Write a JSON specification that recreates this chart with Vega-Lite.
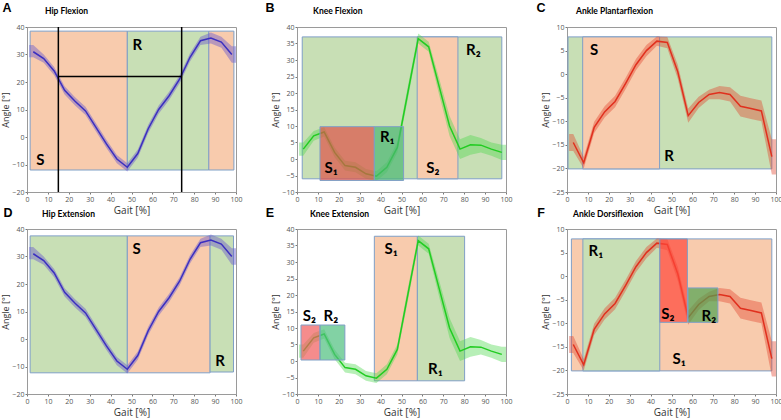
{
  "$schema": "https://vega.github.io/schema/vega-lite/v6.json",
  "padding": {"left": 1, "top": 1, "right": 1, "bottom": 1},
  "columns": 3,
  "spacing": {"row": 37, "column": 61},
  "bounds": "flush",
  "config": {
    "view": {"stroke": "#9a9a9a", "strokeWidth": 1},
    "axis": {"labelFont": "Open Sans", "labelFontSize": 7, "labelColor": "#555", "labelOverlap": false, "labelFlush": false, "tickColor": "#777", "tickSize": 2, "labelPadding": 1, "domainColor": "#9a9a9a", "grid": false, "titleFont": "Open Sans", "titleFontWeight": "normal", "titleColor": "#333"},
    "axisX": {"titlePadding": 3, "titleFontSize": 10, "tickCount": 10},
    "axisY": {"titlePadding": 1, "titleFontSize": 9, "tickCount": 8},
    "text": {"font": "Lato", "fontSize": 15, "fontWeight": "bold", "color": "#000"}
  },
  "datasets": {
    "hip": [
      {"x": 1, "lo": 29, "hi": 33.5},
      {"x": 3, "y": 31, "lo": 29, "hi": 33.5},
      {"x": 8, "y": 28.5, "lo": 27, "hi": 30},
      {"x": 13, "y": 24, "lo": 22.5, "hi": 25.5},
      {"x": 18, "y": 17, "lo": 15.5, "hi": 18.5},
      {"x": 23, "y": 13, "lo": 11.5, "hi": 14.5},
      {"x": 28, "y": 9.5, "lo": 8, "hi": 11},
      {"x": 33, "y": 3.5, "lo": 2, "hi": 5},
      {"x": 38, "y": -2.5, "lo": -4, "hi": -1},
      {"x": 43, "y": -8, "lo": -9.5, "hi": -6.5},
      {"x": 48, "y": -11, "lo": -12.5, "hi": -9.5},
      {"x": 53, "y": -6, "lo": -7.5, "hi": -4.5},
      {"x": 58, "y": 3, "lo": 1.5, "hi": 4.5},
      {"x": 63, "y": 10, "lo": 8.5, "hi": 11.5},
      {"x": 68, "y": 15, "lo": 13.5, "hi": 16.5},
      {"x": 73, "y": 21, "lo": 19.5, "hi": 22.5},
      {"x": 78, "y": 29, "lo": 27.5, "hi": 30.5},
      {"x": 83, "y": 35, "lo": 33.5, "hi": 36.5},
      {"x": 88, "y": 36, "lo": 34, "hi": 38},
      {"x": 93, "y": 34.5, "lo": 32.5, "hi": 36.5},
      {"x": 98, "y": 30, "lo": 27, "hi": 33},
      {"x": 100, "lo": 27, "hi": 33}
    ],
    "knee": [
      {"x": 1, "lo": 1, "hi": 5},
      {"x": 3, "y": 3, "lo": 1, "hi": 5},
      {"x": 8, "y": 7, "lo": 5.5, "hi": 8.5},
      {"x": 13, "y": 8.2, "lo": 6.8, "hi": 9.6},
      {"x": 18, "y": 2, "lo": 0.5, "hi": 3.5},
      {"x": 23, "y": -2, "lo": -3.5, "hi": -0.5},
      {"x": 28, "y": -2.5, "lo": -4, "hi": -1},
      {"x": 33, "y": -4.5, "lo": -6, "hi": -3},
      {"x": 38, "y": -5.2, "lo": -6.7, "hi": -3.7},
      {"x": 43, "y": -2.5, "lo": -4, "hi": -1},
      {"x": 48, "y": 3.5, "lo": 2, "hi": 5},
      {"x": 53, "y": 20, "lo": 18, "hi": 22},
      {"x": 58, "y": 36.5, "lo": 35, "hi": 38},
      {"x": 63, "y": 34, "lo": 32.5, "hi": 35.5},
      {"x": 68, "y": 22, "lo": 19.5, "hi": 24.5},
      {"x": 73, "y": 10, "lo": 7, "hi": 13},
      {"x": 78, "y": 3, "lo": 0, "hi": 6},
      {"x": 83, "y": 4.3, "lo": 1.3, "hi": 7.3},
      {"x": 88, "y": 4.2, "lo": 2, "hi": 6.4},
      {"x": 93, "y": 3, "lo": 1, "hi": 5},
      {"x": 98, "y": 2, "lo": -0.3, "hi": 4.3},
      {"x": 100, "lo": -0.3, "hi": 4.3}
    ],
    "ankle": [
      {"x": 1, "lo": -16.3, "hi": -12.7},
      {"x": 3, "y": -14.5, "lo": -16.3, "hi": -12.7},
      {"x": 8, "y": -18.8, "lo": -20, "hi": -17.6},
      {"x": 13, "y": -11.3, "lo": -12.5, "hi": -10.1},
      {"x": 18, "y": -8, "lo": -9.2, "hi": -6.8},
      {"x": 23, "y": -5.8, "lo": -7, "hi": -4.6},
      {"x": 28, "y": -2, "lo": -3.2, "hi": -0.8},
      {"x": 33, "y": 2, "lo": 0.8, "hi": 3.2},
      {"x": 38, "y": 5, "lo": 3.8, "hi": 6.2},
      {"x": 43, "y": 7, "lo": 6, "hi": 8},
      {"x": 48, "y": 6.7, "lo": 5.5, "hi": 7.9},
      {"x": 53, "y": 0.5, "lo": -1, "hi": 2},
      {"x": 58, "y": -8.8, "lo": -10.3, "hi": -7.3},
      {"x": 63, "y": -6, "lo": -7.2, "hi": -4.8},
      {"x": 68, "y": -4.3, "lo": -5.3, "hi": -3.3},
      {"x": 73, "y": -3.9, "lo": -5.3, "hi": -2.5},
      {"x": 78, "y": -4.3, "lo": -5.8, "hi": -2.8},
      {"x": 83, "y": -6.8, "lo": -9, "hi": -4.6},
      {"x": 88, "y": -7.3, "lo": -9.5, "hi": -5.1},
      {"x": 93, "y": -7.8, "lo": -10, "hi": -5.6},
      {"x": 98, "y": -17.5, "lo": -21.3, "hi": -13.8},
      {"x": 100, "lo": -21.3, "hi": -13.8}
    ],
    "rects": [
      {"panel": "A", "layer": "base", "kind": "S", "x": 1.5, "xe": 48, "y": -12, "ye": 38.5},
      {"panel": "A", "layer": "base", "kind": "R", "x": 48, "xe": 87, "y": -12, "ye": 38.5},
      {"panel": "A", "layer": "base", "kind": "S", "x": 87, "xe": 99, "y": -12, "ye": 38.5},
      {"panel": "B", "layer": "base", "kind": "R", "x": 2.5, "xe": 98, "y": -6, "ye": 37},
      {"panel": "B", "layer": "base", "kind": "S", "x": 57.5, "xe": 77, "y": -6, "ye": 37},
      {"panel": "B", "layer": "over", "kind": "Sd", "x": 11, "xe": 37, "y": -6.5, "ye": 9.8},
      {"panel": "B", "layer": "over", "kind": "Rd", "x": 37, "xe": 51, "y": -6.5, "ye": 9.8},
      {"panel": "C", "layer": "base", "kind": "R", "x": 0.5, "xe": 98, "y": -20.1, "ye": 7.9},
      {"panel": "C", "layer": "base", "kind": "S", "x": 7.5, "xe": 44.3, "y": -20.1, "ye": 7.9},
      {"panel": "D", "layer": "base", "kind": "R", "x": 1.5, "xe": 48, "y": -12.3, "ye": 37.5},
      {"panel": "D", "layer": "base", "kind": "S", "x": 48, "xe": 87.6, "y": -12.3, "ye": 37.5},
      {"panel": "D", "layer": "base", "kind": "R", "x": 87.6, "xe": 98.8, "y": -12, "ye": 37.5},
      {"panel": "E", "layer": "base", "kind": "S", "x": 37, "xe": 57.6, "y": -6, "ye": 37.8},
      {"panel": "E", "layer": "base", "kind": "R", "x": 57.6, "xe": 80.2, "y": -6, "ye": 37.8},
      {"panel": "E", "layer": "over", "kind": "Sr", "x": 1.9, "xe": 11, "y": 0.3, "ye": 10.9},
      {"panel": "E", "layer": "over", "kind": "Rt", "x": 11, "xe": 22.9, "y": 0.3, "ye": 10.9},
      {"panel": "F", "layer": "base", "kind": "S", "x": 2.1, "xe": 98, "y": -20.1, "ye": 7.9},
      {"panel": "F", "layer": "base", "kind": "R", "x": 7.6, "xe": 44.4, "y": -20.1, "ye": 7.9},
      {"panel": "F", "layer": "over", "kind": "Sb", "x": 44.4, "xe": 57.6, "y": -9.8, "ye": 7.9},
      {"panel": "F", "layer": "over", "kind": "Rg", "x": 57.9, "xe": 72.2, "y": -9.8, "ye": -2.5}
    ],
    "rules": [
      {"panel": "A", "x": 15, "xe": 15, "y": -20, "ye": 40},
      {"panel": "A", "x": 74, "xe": 74, "y": -20, "ye": 40},
      {"panel": "A", "x": 15, "xe": 74, "y": 22, "ye": 22}
    ],
    "labels": [
      {"panel": "A", "x": 6.4, "y": -8.4, "text": "S"},
      {"panel": "A", "x": 52.8, "y": 33.5, "text": "R"},
      {"panel": "B", "x": 16.3, "y": -2.7, "text": "S₁"},
      {"panel": "B", "x": 43.2, "y": 6.6, "text": "R₁"},
      {"panel": "B", "x": 65, "y": -2.7, "text": "S₂"},
      {"panel": "B", "x": 84.4, "y": 33.1, "text": "R₂"},
      {"panel": "C", "x": 13, "y": 5.2, "text": "S"},
      {"panel": "C", "x": 48.8, "y": -17.4, "text": "R"},
      {"panel": "D", "x": 52.5, "y": 32.7, "text": "S"},
      {"panel": "D", "x": 92.4, "y": -7.9, "text": "R"},
      {"panel": "E", "x": 5.9, "y": 13.7, "text": "S₂"},
      {"panel": "E", "x": 16.2, "y": 13.7, "text": "R₂"},
      {"panel": "E", "x": 45, "y": 34, "text": "S₁"},
      {"panel": "E", "x": 66.2, "y": -2.4, "text": "R₁"},
      {"panel": "F", "x": 13.8, "y": 5.3, "text": "R₁"},
      {"panel": "F", "x": 48.3, "y": -8, "text": "S₂"},
      {"panel": "F", "x": 67.9, "y": -8.4, "text": "R₂"},
      {"panel": "F", "x": 53.6, "y": -17.6, "text": "S₁"}
    ],
    "heads": [
      {"panel": "A", "role": "letter", "x": -9.6, "y": 46.9, "text": "A"},
      {"panel": "A", "role": "name", "x": 8.6, "y": 45.8, "text": "Hip Flexion"},
      {"panel": "B", "role": "letter", "x": -12.9, "y": 45.8, "text": "B"},
      {"panel": "B", "role": "name", "x": 7.7, "y": 44.8, "text": "Knee Flexion"},
      {"panel": "C", "role": "letter", "x": -12.4, "y": 14.0, "text": "C"},
      {"panel": "C", "role": "name", "x": 4.3, "y": 13.4, "text": "Ankle Plantarflexion"},
      {"panel": "D", "role": "letter", "x": -9.1, "y": 45.8, "text": "D"},
      {"panel": "D", "role": "name", "x": 7.2, "y": 45.5, "text": "Hip Extension"},
      {"panel": "E", "role": "letter", "x": -13, "y": 44.8, "text": "E"},
      {"panel": "E", "role": "name", "x": 6.2, "y": 44.5, "text": "Knee Extension"},
      {"panel": "F", "role": "letter", "x": -12.4, "y": 13.4, "text": "F"},
      {"panel": "F", "role": "name", "x": 2.9, "y": 13.2, "text": "Ankle Dorsiflexion"}
    ]
  },
  "concat": [
    {
      "width": 209, "height": 165,
      "encoding": {
        "x": {"field": "x", "type": "quantitative", "title": "Gait [%]", "scale": {"domain": [0, 100], "nice": false}},
        "y": {"field": "y", "type": "quantitative", "title": "Angle [°]", "scale": {"domain": [-20, 40], "nice": false}}
      },
      "layer": [
        {"data": {"name": "rects"}, "transform": [{"filter": "datum.panel === 'A' && datum.layer === 'base'"}],
         "mark": {"type": "rect", "stroke": "#7f9fc6", "strokeWidth": 1},
         "encoding": {"x2": {"field": "xe"}, "y2": {"field": "ye"},
           "color": {"field": "kind", "type": "nominal", "legend": null, "scale": {"domain": ["S", "R", "Sd", "Rd", "Sr", "Rt", "Sb", "Rg"], "range": ["#f8cbad", "#c8dfb5", "#dd5348", "#4ab773", "#f15b5b", "#4dbf7e", "#ff4639", "#50a350"]}}}},
        {"data": {"name": "hip"}, "mark": {"type": "area", "color": "#6a5acd", "opacity": 0.45},
         "encoding": {"y": {"field": "lo", "type": "quantitative", "title": "Angle [°]", "scale": {"domain": [-20, 40], "nice": false}}, "y2": {"field": "hi"}}},
        {"data": {"name": "hip"}, "mark": {"type": "line", "color": "#3b2fc0", "strokeWidth": 1.5}},
        {"data": {"name": "rules"}, "transform": [{"filter": "datum.panel === 'A'"}],
         "mark": {"type": "rule", "color": "#000", "strokeWidth": 1.5},
         "encoding": {"x2": {"field": "xe"}, "y2": {"field": "ye"}}},
        {"data": {"name": "labels"}, "transform": [{"filter": "datum.panel === 'A'"}],
         "mark": {"type": "text", "align": "center", "baseline": "middle"},
         "encoding": {"text": {"field": "text"}}},
        {"data": {"name": "heads"}, "transform": [{"filter": "datum.panel === 'A' && datum.role === 'letter'"}],
         "mark": {"type": "text", "align": "center", "baseline": "middle", "font": "Liberation Sans", "fontSize": 12.5},
         "encoding": {"text": {"field": "text"}}},
        {"data": {"name": "heads"}, "transform": [{"filter": "datum.panel === 'A' && datum.role === 'name'"}],
         "mark": {"type": "text", "align": "left", "baseline": "middle", "fontSize": 8.5},
         "encoding": {"text": {"field": "text"}}}
      ]
    },
    {
      "width": 209, "height": 165,
      "encoding": {
        "x": {"field": "x", "type": "quantitative", "title": "Gait [%]", "scale": {"domain": [0, 100], "nice": false}},
        "y": {"field": "y", "type": "quantitative", "title": "Angle [°]", "scale": {"domain": [-10, 40], "nice": false}}
      },
      "layer": [
        {"data": {"name": "rects"}, "transform": [{"filter": "datum.panel === 'B' && datum.layer === 'base'"}],
         "mark": {"type": "rect", "stroke": "#7f9fc6", "strokeWidth": 1},
         "encoding": {"x2": {"field": "xe"}, "y2": {"field": "ye"}, "color": {"field": "kind", "type": "nominal", "legend": null}}},
        {"data": {"name": "knee"}, "mark": {"type": "area", "color": "#4cd64c", "opacity": 0.4},
         "encoding": {"y": {"field": "lo", "type": "quantitative", "title": "Angle [°]", "scale": {"domain": [-10, 40], "nice": false}}, "y2": {"field": "hi"}}},
        {"data": {"name": "knee"}, "mark": {"type": "line", "color": "#22cc22", "strokeWidth": 1.5}},
        {"data": {"name": "rects"}, "transform": [{"filter": "datum.panel === 'B' && datum.layer === 'over'"}],
         "mark": {"type": "rect", "stroke": "#7f9fc6", "strokeWidth": 1, "fillOpacity": 0.7},
         "encoding": {"x2": {"field": "xe"}, "y2": {"field": "ye"}, "color": {"field": "kind", "type": "nominal", "legend": null}}},
        {"data": {"name": "labels"}, "transform": [{"filter": "datum.panel === 'B'"}],
         "mark": {"type": "text", "align": "center", "baseline": "middle"},
         "encoding": {"text": {"field": "text"}}},
        {"data": {"name": "heads"}, "transform": [{"filter": "datum.panel === 'B' && datum.role === 'letter'"}],
         "mark": {"type": "text", "align": "center", "baseline": "middle", "font": "Liberation Sans", "fontSize": 12.5},
         "encoding": {"text": {"field": "text"}}},
        {"data": {"name": "heads"}, "transform": [{"filter": "datum.panel === 'B' && datum.role === 'name'"}],
         "mark": {"type": "text", "align": "left", "baseline": "middle", "fontSize": 8.5},
         "encoding": {"text": {"field": "text"}}}
      ]
    },
    {
      "width": 209, "height": 165,
      "encoding": {
        "x": {"field": "x", "type": "quantitative", "title": "Gait [%]", "scale": {"domain": [0, 100], "nice": false}},
        "y": {"field": "y", "type": "quantitative", "title": "Angle [°]", "scale": {"domain": [-25, 10], "nice": false}}
      },
      "layer": [
        {"data": {"name": "rects"}, "transform": [{"filter": "datum.panel === 'C' && datum.layer === 'base'"}],
         "mark": {"type": "rect", "stroke": "#7f9fc6", "strokeWidth": 1},
         "encoding": {"x2": {"field": "xe"}, "y2": {"field": "ye"}, "color": {"field": "kind", "type": "nominal", "legend": null}}},
        {"data": {"name": "ankle"}, "mark": {"type": "area", "color": "#e0402a", "opacity": 0.4},
         "encoding": {"y": {"field": "lo", "type": "quantitative", "title": "Angle [°]", "scale": {"domain": [-25, 10], "nice": false}}, "y2": {"field": "hi"}}},
        {"data": {"name": "ankle"}, "mark": {"type": "line", "color": "#e0301e", "strokeWidth": 1.5}},
        {"data": {"name": "labels"}, "transform": [{"filter": "datum.panel === 'C'"}],
         "mark": {"type": "text", "align": "center", "baseline": "middle"},
         "encoding": {"text": {"field": "text"}}},
        {"data": {"name": "heads"}, "transform": [{"filter": "datum.panel === 'C' && datum.role === 'letter'"}],
         "mark": {"type": "text", "align": "center", "baseline": "middle", "font": "Liberation Sans", "fontSize": 12.5},
         "encoding": {"text": {"field": "text"}}},
        {"data": {"name": "heads"}, "transform": [{"filter": "datum.panel === 'C' && datum.role === 'name'"}],
         "mark": {"type": "text", "align": "left", "baseline": "middle", "fontSize": 8.5},
         "encoding": {"text": {"field": "text"}}}
      ]
    },
    {
      "width": 209, "height": 165,
      "encoding": {
        "x": {"field": "x", "type": "quantitative", "title": "Gait [%]", "scale": {"domain": [0, 100], "nice": false}},
        "y": {"field": "y", "type": "quantitative", "title": "Angle [°]", "scale": {"domain": [-20, 40], "nice": false}}
      },
      "layer": [
        {"data": {"name": "rects"}, "transform": [{"filter": "datum.panel === 'D' && datum.layer === 'base'"}],
         "mark": {"type": "rect", "stroke": "#7f9fc6", "strokeWidth": 1},
         "encoding": {"x2": {"field": "xe"}, "y2": {"field": "ye"}, "color": {"field": "kind", "type": "nominal", "legend": null}}},
        {"data": {"name": "hip"}, "mark": {"type": "area", "color": "#6a5acd", "opacity": 0.45},
         "encoding": {"y": {"field": "lo", "type": "quantitative", "title": "Angle [°]", "scale": {"domain": [-20, 40], "nice": false}}, "y2": {"field": "hi"}}},
        {"data": {"name": "hip"}, "mark": {"type": "line", "color": "#3b2fc0", "strokeWidth": 1.5}},
        {"data": {"name": "labels"}, "transform": [{"filter": "datum.panel === 'D'"}],
         "mark": {"type": "text", "align": "center", "baseline": "middle"},
         "encoding": {"text": {"field": "text"}}},
        {"data": {"name": "heads"}, "transform": [{"filter": "datum.panel === 'D' && datum.role === 'letter'"}],
         "mark": {"type": "text", "align": "center", "baseline": "middle", "font": "Liberation Sans", "fontSize": 12.5},
         "encoding": {"text": {"field": "text"}}},
        {"data": {"name": "heads"}, "transform": [{"filter": "datum.panel === 'D' && datum.role === 'name'"}],
         "mark": {"type": "text", "align": "left", "baseline": "middle", "fontSize": 8.5},
         "encoding": {"text": {"field": "text"}}}
      ]
    },
    {
      "width": 209, "height": 165,
      "encoding": {
        "x": {"field": "x", "type": "quantitative", "title": "Gait [%]", "scale": {"domain": [0, 100], "nice": false}},
        "y": {"field": "y", "type": "quantitative", "title": "Angle [°]", "scale": {"domain": [-10, 40], "nice": false}}
      },
      "layer": [
        {"data": {"name": "rects"}, "transform": [{"filter": "datum.panel === 'E' && datum.layer === 'base'"}],
         "mark": {"type": "rect", "stroke": "#7f9fc6", "strokeWidth": 1},
         "encoding": {"x2": {"field": "xe"}, "y2": {"field": "ye"}, "color": {"field": "kind", "type": "nominal", "legend": null}}},
        {"data": {"name": "knee"}, "mark": {"type": "area", "color": "#4cd64c", "opacity": 0.4},
         "encoding": {"y": {"field": "lo", "type": "quantitative", "title": "Angle [°]", "scale": {"domain": [-10, 40], "nice": false}}, "y2": {"field": "hi"}}},
        {"data": {"name": "knee"}, "mark": {"type": "line", "color": "#22cc22", "strokeWidth": 1.5}},
        {"data": {"name": "rects"}, "transform": [{"filter": "datum.panel === 'E' && datum.layer === 'over'"}],
         "mark": {"type": "rect", "stroke": "#7f9fc6", "strokeWidth": 1, "fillOpacity": 0.7},
         "encoding": {"x2": {"field": "xe"}, "y2": {"field": "ye"}, "color": {"field": "kind", "type": "nominal", "legend": null}}},
        {"data": {"name": "labels"}, "transform": [{"filter": "datum.panel === 'E'"}],
         "mark": {"type": "text", "align": "center", "baseline": "middle"},
         "encoding": {"text": {"field": "text"}}},
        {"data": {"name": "heads"}, "transform": [{"filter": "datum.panel === 'E' && datum.role === 'letter'"}],
         "mark": {"type": "text", "align": "center", "baseline": "middle", "font": "Liberation Sans", "fontSize": 12.5},
         "encoding": {"text": {"field": "text"}}},
        {"data": {"name": "heads"}, "transform": [{"filter": "datum.panel === 'E' && datum.role === 'name'"}],
         "mark": {"type": "text", "align": "left", "baseline": "middle", "fontSize": 8.5},
         "encoding": {"text": {"field": "text"}}}
      ]
    },
    {
      "width": 209, "height": 165,
      "encoding": {
        "x": {"field": "x", "type": "quantitative", "title": "Gait [%]", "scale": {"domain": [0, 100], "nice": false}},
        "y": {"field": "y", "type": "quantitative", "title": "Angle [°]", "scale": {"domain": [-25, 10], "nice": false}}
      },
      "layer": [
        {"data": {"name": "rects"}, "transform": [{"filter": "datum.panel === 'F' && datum.layer === 'base'"}],
         "mark": {"type": "rect", "stroke": "#7f9fc6", "strokeWidth": 1},
         "encoding": {"x2": {"field": "xe"}, "y2": {"field": "ye"}, "color": {"field": "kind", "type": "nominal", "legend": null}}},
        {"data": {"name": "ankle"}, "mark": {"type": "area", "color": "#e0402a", "opacity": 0.4},
         "encoding": {"y": {"field": "lo", "type": "quantitative", "title": "Angle [°]", "scale": {"domain": [-25, 10], "nice": false}}, "y2": {"field": "hi"}}},
        {"data": {"name": "ankle"}, "mark": {"type": "line", "color": "#e0301e", "strokeWidth": 1.5}},
        {"data": {"name": "rects"}, "transform": [{"filter": "datum.panel === 'F' && datum.layer === 'over'"}],
         "mark": {"type": "rect", "stroke": "#7f9fc6", "strokeWidth": 1, "fillOpacity": 0.7},
         "encoding": {"x2": {"field": "xe"}, "y2": {"field": "ye"}, "color": {"field": "kind", "type": "nominal", "legend": null}}},
        {"data": {"name": "labels"}, "transform": [{"filter": "datum.panel === 'F'"}],
         "mark": {"type": "text", "align": "center", "baseline": "middle"},
         "encoding": {"text": {"field": "text"}}},
        {"data": {"name": "heads"}, "transform": [{"filter": "datum.panel === 'F' && datum.role === 'letter'"}],
         "mark": {"type": "text", "align": "center", "baseline": "middle", "font": "Liberation Sans", "fontSize": 12.5},
         "encoding": {"text": {"field": "text"}}},
        {"data": {"name": "heads"}, "transform": [{"filter": "datum.panel === 'F' && datum.role === 'name'"}],
         "mark": {"type": "text", "align": "left", "baseline": "middle", "fontSize": 8.5},
         "encoding": {"text": {"field": "text"}}}
      ]
    }
  ]
}
